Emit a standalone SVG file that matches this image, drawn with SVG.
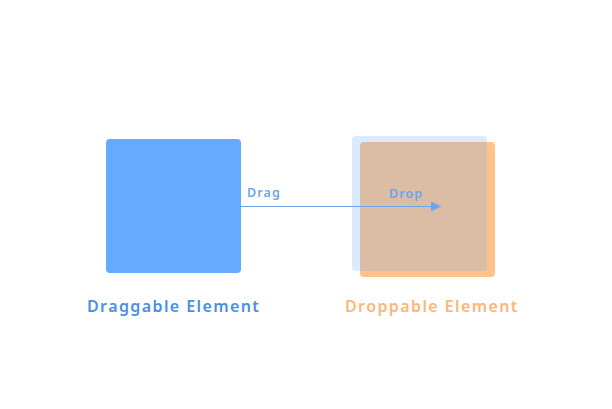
<svg xmlns="http://www.w3.org/2000/svg" width="612" height="409" viewBox="0 0 612 409">
<style>
.lbl{font-family:"Noto Sans","Open Sans",sans-serif;font-weight:600;font-size:16px;letter-spacing:1.4px}
.sm{font-family:"Noto Sans","Open Sans",sans-serif;font-weight:600;font-size:12.5px;fill:#6aa6ee;letter-spacing:1.1px}
</style>
<defs>
<marker id="ah" viewBox="0 0 10 10" refX="10" refY="5" markerWidth="10" markerHeight="10" markerUnits="userSpaceOnUse" orient="auto">
<path d="M0,0 L10,5 L0,10 z" fill="#6aa6ee"/>
</marker>
</defs>
<rect width="612" height="409" fill="#ffffff"/>
<g id="draggable">
<rect x="106" y="139" width="135" height="134" rx="4" fill="#64aaff"/>
<text class="lbl" x="87" y="312" fill="#4a90e2">Draggable Element</text>
</g>
<g id="droppable">
<rect x="360" y="142" width="135" height="135" rx="4" fill="#ffc28a"/>
<text class="lbl" x="345" y="312" fill="#fbb77a">Droppable Element</text>
</g>
<g id="connectors">
<line x1="241" y1="206.5" x2="441" y2="206.5" stroke="#6aa6ee" stroke-width="1" marker-end="url(#ah)"/>
<text class="sm" x="247" y="197">Drag</text>
<text class="sm" x="389" y="198">Drop</text>
</g>
<g id="ghost">
<rect x="352" y="136" width="135" height="135" rx="4" fill="#64aaff" opacity="0.23"/>
</g>
</svg>
